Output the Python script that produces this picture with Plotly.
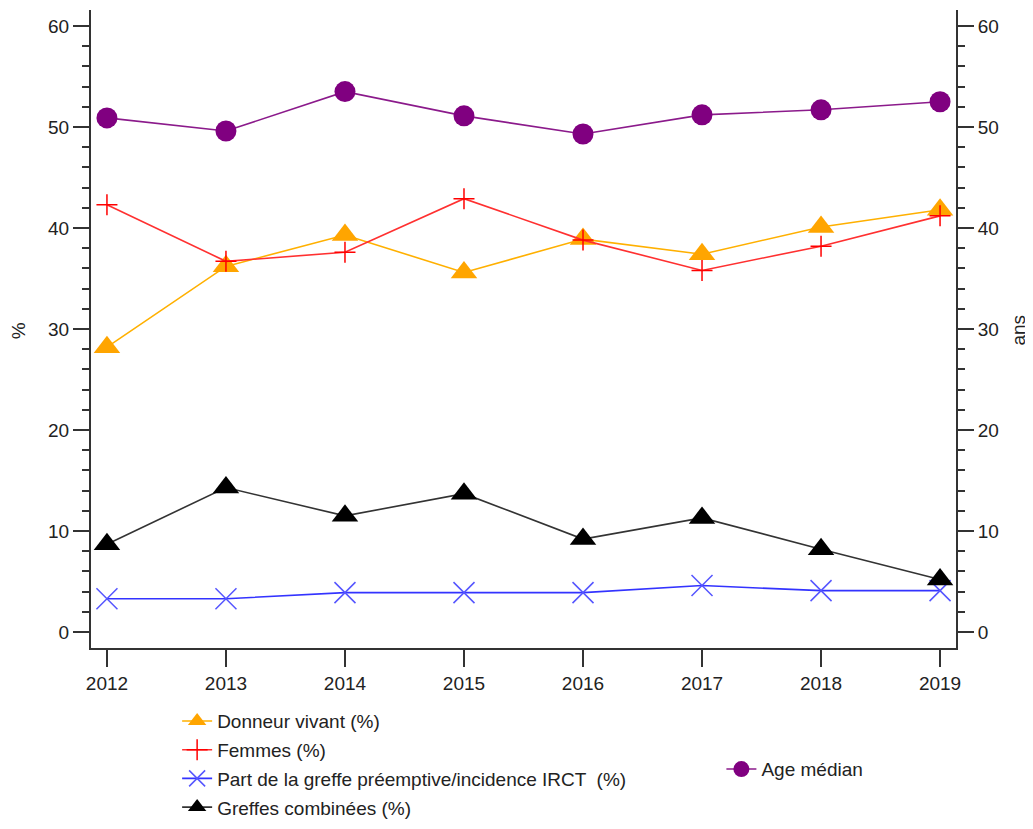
import plotly.graph_objects as go

years = [2012, 2013, 2014, 2015, 2016, 2017, 2018, 2019]
donneur_vivant = [28.2, 36.2, 39.3, 35.6, 38.9, 37.4, 40.1, 41.8]
femmes = [42.3, 36.7, 37.6, 42.9, 38.8, 35.8, 38.2, 41.2]
part_preemptive = [3.3, 3.3, 3.9, 3.9, 3.9, 4.6, 4.1, 4.1]
greffes_combinees = [8.7, 14.3, 11.5, 13.7, 9.2, 11.3, 8.2, 5.2]
age_median = [50.9, 49.6, 53.5, 51.1, 49.3, 51.2, 51.7, 52.5]

FONT = "Liberation Sans, Arial, sans-serif"
AX = "#333333"
TXT = "#222222"

fig = go.Figure()
fig.add_trace(go.Scatter(x=years, y=donneur_vivant, name="Donneur vivant (%)", mode="lines+markers",
                         line=dict(color="#FFB000", width=1.6),
                         marker=dict(symbol="triangle-up", size=23, color="#FFA500"),
                         legend="legend", legendgroup="a"))
fig.add_trace(go.Scatter(x=years, y=femmes, name="Femmes (%)", mode="lines+markers",
                         line=dict(color="#FF3030", width=1.6),
                         marker=dict(symbol="cross-thin", size=15, color="#FF0000",
                                     line=dict(color="#FF0000", width=1.5)),
                         legend="legend", legendgroup="b"))
fig.add_trace(go.Scatter(x=years, y=part_preemptive, name="Part de la greffe préemptive/incidence IRCT  (%)",
                         mode="lines+markers",
                         line=dict(color="#3333FF", width=1.6),
                         marker=dict(symbol="x-thin", size=21, color="#5555FF",
                                     line=dict(color="#5555FF", width=1.5)),
                         legend="legend", legendgroup="c"))
fig.add_trace(go.Scatter(x=years, y=greffes_combinees, name="Greffes combinées (%)", mode="lines+markers",
                         line=dict(color="#333333", width=1.6),
                         marker=dict(symbol="triangle-up", size=23, color="#000000"),
                         legend="legend", legendgroup="d"))
fig.add_trace(go.Scatter(x=years, y=age_median, name="Age médian", mode="lines+markers",
                         line=dict(color="#8B1A8B", width=1.6),
                         marker=dict(symbol="circle", size=21, color="#800080"),
                         yaxis="y2", legend="legend2"))

yr = [-1.58, 61.58]
common_y = dict(range=yr, tickvals=[0, 10, 20, 30, 40, 50, 60], ticks="outside", ticklen=16, tickwidth=2,
                tickcolor=AX, showline=True, linecolor=AX, linewidth=2, showgrid=False, zeroline=False,
                minor=dict(dtick=2, ticks="outside", ticklen=7, tickwidth=2, tickcolor=AX),
                tickfont=dict(family=FONT, size=19, color=TXT), automargin=False)

fig.update_layout(
    width=1025, height=813,
    margin=dict(l=83, r=77, t=2, b=173, autoexpand=False),
    paper_bgcolor="white", plot_bgcolor="white",
    font=dict(family=FONT, size=19, color=TXT),
    xaxis=dict(range=[2011.866, 2019.134], tickvals=years, ticks="outside", ticklen=17, tickwidth=2,
               tickcolor=AX, showline=True, linecolor=AX, linewidth=2, showgrid=False, zeroline=False,
               tickfont=dict(family=FONT, size=19, color=TXT), automargin=False),
    yaxis=dict(**common_y),
    yaxis2=dict(overlaying="y", side="right", **common_y),
    legend=dict(xref="container", yref="container", x=0.165, y=0.1462, xanchor="left", yanchor="top",
                traceorder="grouped", tracegroupgap=1,
                font=dict(family=FONT, size=19, color=TXT), bgcolor="rgba(0,0,0,0)"),
    legend2=dict(xref="container", yref="container", x=0.696, y=0.0871, xanchor="left", yanchor="top",
                 font=dict(family=FONT, size=19, color=TXT), bgcolor="rgba(0,0,0,0)"),
    annotations=[
        dict(text="%", xref="paper", yref="paper", x=-0.0844, y=0.498, textangle=-90,
             showarrow=False, xanchor="center", yanchor="middle", font=dict(family=FONT, size=19, color=TXT)),
        dict(text="ans", xref="paper", yref="paper", x=1.072, y=0.498, textangle=-90,
             showarrow=False, xanchor="center", yanchor="middle", font=dict(family=FONT, size=19, color=TXT)),
    ],
)

fig.write_html("out.html")
